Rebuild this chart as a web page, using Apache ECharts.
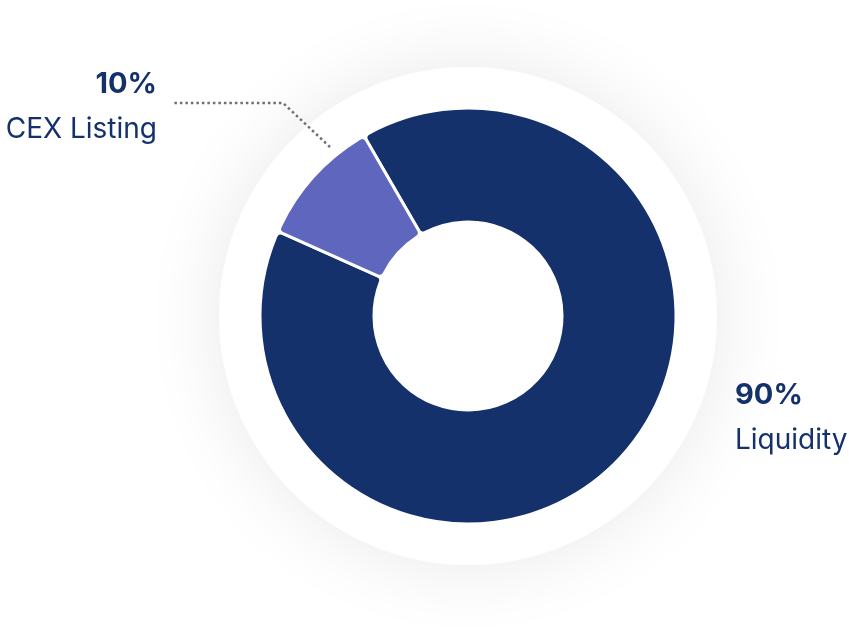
<!DOCTYPE html>
<html>
<head>
<meta charset="utf-8">
<script src="https://cdn.jsdelivr.net/npm/echarts@6/dist/echarts.min.js"></script>
<style>
  html, body { margin: 0; padding: 0; background: #fff; }
  #chart { width: 849px; height: 644px; }
</style>
</head>
<body>
<div id="chart"></div>
<script>
const categories = ['Liquidity', 'CEX Listing']
const shares = [90, 10]
const colors = ['#14316b', '#5f66bd']

const chart = echarts.init(document.getElementById('chart'))

// label spots, picked by hand from the reference
const labelSpots = [
  { x: 735, y: 418, align: 'left', verticalAlign: 'middle' },
  {
    x: 157, y: 107, align: 'right', verticalAlign: 'middle',
    labelLinePoints: [[330, 147], [283, 103], [173, 103]]
  }
]

chart.setOption({
  animation: false,
  series: [
    {
      // white disc with soft shadow behind the donut
      type: 'pie',
      silent: true,
      z: 0,
      center: [468, 316],
      radius: [0, 249],
      label: { show: false },
      labelLine: { show: false },
      itemStyle: { color: '#fff', shadowBlur: 80, shadowColor: 'rgba(0,0,0,0.09)' },
      data: [{ value: 1 }]
    },
    {
      type: 'pie',
      z: 2,
      center: [468, 316],
      radius: [94, 208],
      startAngle: 120,
      clockwise: true,
      avoidLabelOverlap: false,
      itemStyle: { borderColor: '#fff', borderWidth: 3, borderRadius: 5 },
      label: {
        show: true,
        formatter: p => `{pct|${p.value}%}\n{name|${p.name}}`,
        rich: {
          pct: { fontFamily: 'Inter', fontSize: 29, fontWeight: 700, color: '#14316b', lineHeight: 45 },
          name: { fontFamily: 'Inter', fontSize: 28, color: '#14316b', lineHeight: 45 }
        }
      },
      labelLine: {
        show: true,
        lineStyle: { color: '#6b6f78', width: 2.5, type: [2.5, 3] }
      },
      labelLayout: p => labelSpots[p.dataIndex],
      data: categories.map((name, i) => ({
        name,
        value: shares[i],
        itemStyle: { color: colors[i] },
        labelLine: { show: i === 1 }
      }))
    }
  ]
})

window.addEventListener('resize', () => chart && chart.resize())
</script>
</body>
</html>
